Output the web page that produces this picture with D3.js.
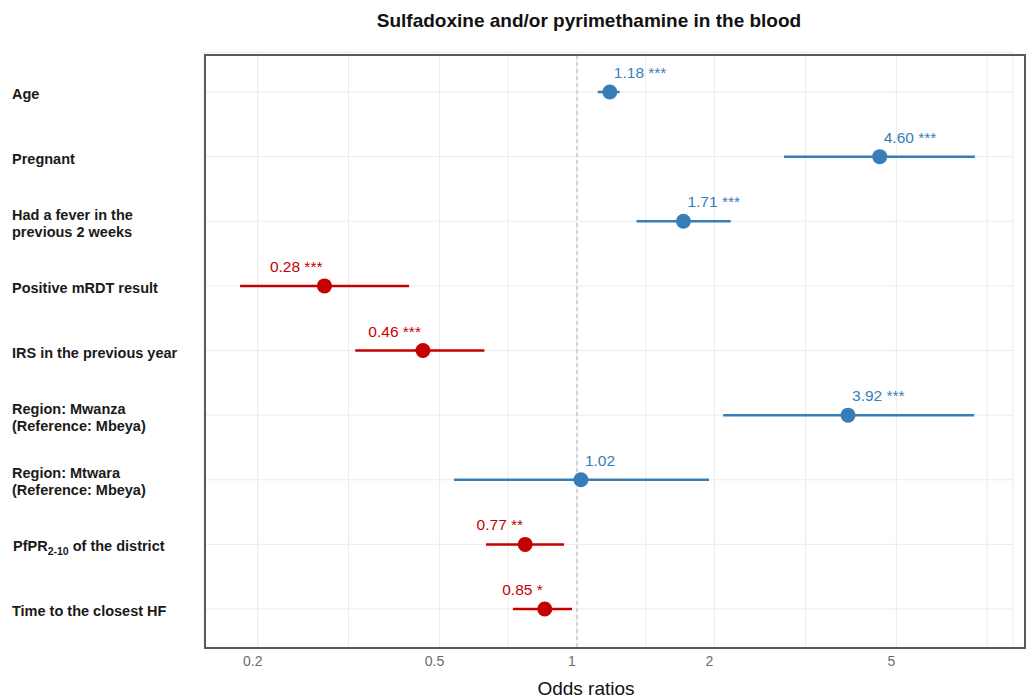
<!DOCTYPE html>
<html>
<head>
<meta charset="utf-8">
<script src="https://cdn.jsdelivr.net/npm/d3@7"></script>
<style>
  body { margin: 0; background: #fff; }
  svg { font-family: 'Liberation Sans', Arial, sans-serif; }
</style>
</head>
<body>
<svg id="chart" width="1032" height="698"></svg>
<script>
// Data
const terms = ['Age', 'Pregnant', 'Fever', 'mRDT', 'IRS', 'Mwanza', 'Mtwara', 'PfPR', 'Time'];
const termLabels = [
  ['Age'],
  ['Pregnant'],
  ['Had a fever in the', 'previous 2 weeks'],
  ['Positive mRDT result'],
  ['IRS in the previous year'],
  ['Region: Mwanza', '(Reference: Mbeya)'],
  ['Region: Mtwara', '(Reference: Mbeya)'],
  ['PfPR|2-10| of the district'],
  ['Time to the closest HF']
];
const estimates = [1.18, 4.60, 1.71, 0.28, 0.46, 3.92, 1.02, 0.77, 0.85];
const ciLow = [1.11, 2.84, 1.35, 0.183, 0.327, 2.09, 0.538, 0.632, 0.724];
const ciHigh = [1.24, 7.43, 2.17, 0.429, 0.627, 7.40, 1.945, 0.937, 0.975];
const stars = ['***', '***', '***', '***', '***', '***', '', '**', '*'];
const xTicks = [0.2, 0.5, 1, 2, 5];

const data = terms.map((t, i) => ({
  term: t,
  label: termLabels[i],
  est: estimates[i],
  lo: ciLow[i],
  hi: ciHigh[i],
  stars: stars[i]
}));

const blue = '#377eb8';
const red = '#c50000';

const svg = d3.select('#chart');

const panel = { left: 205, right: 1025, top: 55, bottom: 648 };
const gridRight = 1013;
const gridTop = 52.5;

const xScale = d3.scaleLog()
  .domain([0.2, 5])
  .range([257.7, 896.3]);

const yScale = d3.scalePoint()
  .domain(terms)
  .range([92, 609]);

// minor breaks halfway between major ones (log space), extended one step past the ends
const logTicks = xTicks.map(Math.log10);
const extended = [logTicks[0] - (logTicks[1] - logTicks[0])]
  .concat(logTicks)
  .concat([logTicks[logTicks.length - 1] + (logTicks[logTicks.length - 1] - logTicks[logTicks.length - 2])]);
const minor = [];
for (let i = 0; i < extended.length - 1; i++) {
  const v = Math.pow(10, (extended[i] + extended[i + 1]) / 2);
  const px = xScale(v);
  if (px > panel.left && px < gridRight + 1) minor.push(v);
}

const grid = svg.append('g').attr('stroke', '#ebebeb').attr('stroke-width', 1);

grid.selectAll('.vmajor')
  .data(xTicks)
  .join('line')
  .attr('x1', d => xScale(d))
  .attr('x2', d => xScale(d))
  .attr('y1', gridTop)
  .attr('y2', panel.bottom);

grid.selectAll('.vminor')
  .data(minor)
  .join('line')
  .attr('x1', d => xScale(d))
  .attr('x2', d => xScale(d))
  .attr('y1', gridTop)
  .attr('y2', panel.bottom);

grid.selectAll('.hmajor')
  .data(terms)
  .join('line')
  .attr('x1', panel.left)
  .attr('x2', gridRight)
  .attr('y1', d => yScale(d))
  .attr('y2', d => yScale(d));

// light edges of the grid area
grid.append('line').attr('x1', 204).attr('x2', gridRight).attr('y1', gridTop).attr('y2', gridTop);
grid.append('line').attr('x1', gridRight).attr('x2', gridRight).attr('y1', gridTop).attr('y2', panel.bottom);
grid.append('line').attr('x1', 204).attr('x2', 204).attr('y1', gridTop).attr('y2', panel.bottom);

// reference line at OR = 1
svg.append('line')
  .attr('x1', xScale(1))
  .attr('x2', xScale(1))
  .attr('y1', panel.top)
  .attr('y2', panel.bottom)
  .attr('stroke', '#b3b3b3')
  .attr('stroke-width', 1)
  .attr('stroke-dasharray', '4,3');

// error bars
svg.append('g')
  .selectAll('line')
  .data(data)
  .join('line')
  .attr('x1', d => xScale(d.lo))
  .attr('x2', d => xScale(d.hi))
  .attr('y1', d => yScale(d.term))
  .attr('y2', d => yScale(d.term))
  .attr('stroke', d => d.est > 1 ? blue : red)
  .attr('stroke-width', 2.5);

// points
svg.append('g')
  .selectAll('circle')
  .data(data)
  .join('circle')
  .attr('cx', d => xScale(d.est))
  .attr('cy', d => yScale(d.term))
  .attr('r', 7.5)
  .attr('fill', d => d.est > 1 ? blue : red);

// value labels
svg.append('g')
  .selectAll('text')
  .data(data)
  .join('text')
  .attr('x', d => d.est > 1 ? xScale(d.est) + 4 : xScale(d.est) - 2)
  .attr('y', d => yScale(d.term) - 14)
  .attr('text-anchor', d => d.est > 1 ? 'start' : 'end')
  .attr('font-size', '15.5px')
  .attr('fill', d => d.est > 1 ? blue : red)
  .text(d => d3.format('.2f')(d.est) + (d.stars ? ' ' + d.stars : ''));

// panel border
svg.append('rect')
  .attr('x', panel.left)
  .attr('y', panel.top)
  .attr('width', panel.right - panel.left)
  .attr('height', panel.bottom - panel.top)
  .attr('fill', 'none')
  .attr('stroke', '#5a5a5a')
  .attr('stroke-width', 2);

// y labels
const yLab = svg.append('g')
  .selectAll('text')
  .data(data)
  .join('text')
  .attr('x', 12)
  .attr('y', d => yScale(d.term) + 7 - (d.label.length - 1) * 8.5)
  .attr('font-size', '14.5px')
  .attr('font-weight', 'bold')
  .attr('fill', '#1a1a1a');

yLab.each(function (d) {
  const t = d3.select(this);
  d.label.forEach((line, i) => {
    if (line.indexOf('|') >= 0) {
      const parts = line.split('|');
      t.append('tspan').attr('x', 13).text(parts[0]);
      t.append('tspan').attr('font-size', '10.5px').attr('dy', 4).text(parts[1]);
      t.append('tspan').attr('dy', -4).text(parts[2]);
    } else {
      t.append('tspan')
        .attr('x', 12)
        .attr('dy', i === 0 ? 0 : 17)
        .text(line);
    }
  });
});

// x axis tick labels
svg.append('g')
  .selectAll('text')
  .data(xTicks)
  .join('text')
  .attr('x', d => xScale(d) - 5)
  .attr('y', 666)
  .attr('text-anchor', 'middle')
  .attr('font-size', '14px')
  .attr('fill', '#6b6b6b')
  .text(d => d3.format('~g')(d));

svg.append('text')
  .attr('x', 586)
  .attr('y', 695)
  .attr('text-anchor', 'middle')
  .attr('font-size', '19px')
  .attr('fill', '#111')
  .text('Odds ratios');

svg.append('text')
  .attr('x', 589)
  .attr('y', 27)
  .attr('text-anchor', 'middle')
  .attr('font-size', '19px')
  .attr('font-weight', 'bold')
  .attr('fill', '#111')
  .text('Sulfadoxine and/or pyrimethamine in the blood');
</script>
</body>
</html>
